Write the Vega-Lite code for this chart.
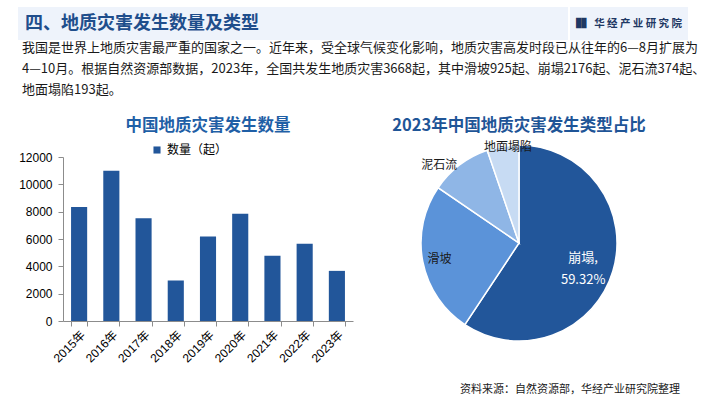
{
  "$schema": "https://vega.github.io/schema/vega-lite/v6.json",
  "background": "white",
  "padding": {"left": 17, "top": 7, "right": 0, "bottom": 0},
  "config": {
    "font": "Noto Sans CJK SC",
    "view": {"stroke": null},
    "title": {"font": "Noto Sans CJK SC"}
  },
  "columns": 2,
  "align": "none",
  "spacing": {"row": 2, "column": 0},
  "concat": [
    {"width": 1, "height": 1, "data": {"values": []}, "mark": {"type": "text", "text": ""}},
    {
      "columns": 2,
      "align": "none",
      "spacing": 0,
      "concat": [
        {
          "width": 550,
          "height": 33,
          "view": {"fill": "#eef3fb", "stroke": null},
          "title": {"text": "四、地质灾害发生数量及类型", "anchor": "start", "frame": "group", "offset": -26, "dx": 7, "fontSize": 18, "fontWeight": "bold", "color": "#1f4e8c"},
          "data": {"values": []},
          "mark": {"type": "text", "text": ""}
        },
        {
          "width": 118,
          "height": 33,
          "view": {"fill": "#eef3fb", "stroke": null},
          "title": {"text": "▐▌  华 经 产 业 研 究 院", "anchor": "end", "frame": "group", "offset": -22, "dx": -6, "fontSize": 10.5, "fontWeight": "bold", "color": "#1f3864"},
          "data": {"values": []},
          "mark": {"type": "text", "text": ""}
        }
      ]
    },
    {"width": 1, "height": 1, "data": {"values": []}, "mark": {"type": "text", "text": ""}},
    {
      "width": 668,
      "height": 15,
      "title": {
        "text": [
          "我国是世界上地质灾害最严重的国家之一。近年来，受全球气候变化影响，地质灾害高发时段已从往年的6—8月扩展为",
          "4—10月。根据自然资源部数据，2023年，全国共发生地质灾害3668起，其中滑坡925起、崩塌2176起、泥石流374起、",
          "地面塌陷193起。"
        ],
        "anchor": "start", "frame": "group", "dx": 4, "offset": 2,
        "fontSize": 13, "fontWeight": "normal", "lineHeight": 21, "color": "#1a1a1a"
      },
      "data": {"values": []},
      "mark": {"type": "text", "text": ""}
    },
    {"width": 1, "height": 1, "data": {"values": []}, "mark": {"type": "text", "text": ""}},
    {
      "columns": 2,
      "align": "none",
      "spacing": {"row": 0, "column": 39},
      "resolve": {"scale": {"color": "independent"}, "legend": {"color": "independent"}},
      "concat": [
        {"width": 1, "height": 1, "data": {"values": []}, "mark": {"type": "text", "text": ""}},
        {"width": 1, "height": 1, "data": {"values": []}, "mark": {"type": "text", "text": ""}},
        {
          "width": 290,
          "height": 164,
          "title": {"text": "中国地质灾害发生数量", "fontSize": 16.5, "fontWeight": "bold", "color": "#1f5fa6", "anchor": "middle", "offset": 10},
          "data": {"values": [
            {"year": "2015年", "count": 8350, "series": "数量（起）"},
            {"year": "2016年", "count": 10997, "series": "数量（起）"},
            {"year": "2017年", "count": 7521, "series": "数量（起）"},
            {"year": "2018年", "count": 2966, "series": "数量（起）"},
            {"year": "2019年", "count": 6181, "series": "数量（起）"},
            {"year": "2020年", "count": 7840, "series": "数量（起）"},
            {"year": "2021年", "count": 4772, "series": "数量（起）"},
            {"year": "2022年", "count": 5659, "series": "数量（起）"},
            {"year": "2023年", "count": 3668, "series": "数量（起）"}
          ]},
          "mark": {"type": "bar"},
          "encoding": {
            "x": {"field": "year", "type": "ordinal", "scale": {"paddingInner": 0.5, "paddingOuter": 0.25},
              "axis": {"title": null, "labelAngle": -45, "tickBand": "extent", "labelFontSize": 12, "labelFont": "Liberation Sans, Noto Sans CJK SC", "labelColor": "#000", "domainColor": "#8c8c8c", "tickColor": "#8c8c8c", "tickSize": 5, "labelPadding": 3}},
            "y": {"field": "count", "type": "quantitative", "scale": {"domain": [0, 12000]},
              "axis": {"title": null, "values": [0, 2000, 4000, 6000, 8000, 10000, 12000], "format": "d", "grid": false, "labelFontSize": 12, "labelFont": "Liberation Sans", "labelColor": "#000", "domainColor": "#8c8c8c", "tickColor": "#8c8c8c", "tickSize": 5, "labelPadding": 6}},
            "color": {"field": "series", "type": "nominal", "scale": {"range": ["#22569a"]},
              "legend": {"title": null, "orient": "none", "legendX": 88, "legendY": -13, "symbolType": "square", "symbolSize": 50, "symbolStrokeWidth": 0, "labelFontSize": 12, "labelFont": "Noto Sans CJK SC", "labelColor": "#000"}}
          }
        },
        {
          "width": 196,
          "height": 196,
          "title": {"text": "2023年中国地质灾害发生类型占比", "fontSize": 16.5, "fontWeight": "bold", "color": "#1f5597", "anchor": "middle", "frame": "group", "offset": 5},
          "data": {"values": [
            {"type": "崩塌", "count": 2176, "label": "崩塌,\n59.32%"},
            {"type": "滑坡", "count": 925, "label": "滑坡"},
            {"type": "泥石流", "count": 374, "label": "泥石流"},
            {"type": "地面塌陷", "count": 193, "label": "地面塌陷"}
          ]},
          "encoding": {
            "theta": {"field": "count", "type": "quantitative", "stack": true},
            "order": {"field": "count", "type": "quantitative", "sort": "descending"}
          },
          "layer": [
            {
              "mark": {"type": "arc", "stroke": "white", "strokeWidth": 1.5},
              "encoding": {
                "color": {"field": "type", "type": "nominal", "scale": {"domain": ["崩塌", "滑坡", "泥石流", "地面塌陷"], "range": ["#22569a", "#5b93d9", "#8fb6e6", "#c7dbf3"]}, "legend": null}
              }
            },
            {
              "mark": {"type": "text", "radius": 67, "lineBreak": "\n", "fontSize": 13, "lineHeight": 22, "baseline": "middle", "dy": -4},
              "encoding": {
                "detail": {"field": "type"},
                "color": {"value": "#ffffff"},
                "text": {"condition": {"test": "datum.type === '崩塌'", "field": "label", "type": "nominal"}, "value": ""}
              }
            },
            {
              "mark": {"type": "text", "radius": 81, "fontSize": 12, "baseline": "middle"},
              "encoding": {
                "detail": {"field": "type"},
                "color": {"value": "#1a1a1a"},
                "text": {"condition": {"test": "datum.type === '滑坡'", "field": "label", "type": "nominal"}, "value": ""}
              }
            },
            {
              "mark": {"type": "text", "radius": 102, "fontSize": 12, "baseline": "middle", "align": "right", "dy": 3},
              "encoding": {
                "detail": {"field": "type"},
                "color": {"value": "#1a1a1a"},
                "text": {"condition": {"test": "datum.type === '泥石流'", "field": "label", "type": "nominal"}, "value": ""}
              }
            },
            {
              "mark": {"type": "text", "radius": 97, "dx": 5, "fontSize": 12, "baseline": "middle"},
              "encoding": {
                "detail": {"field": "type"},
                "color": {"value": "#1a1a1a"},
                "text": {"condition": {"test": "datum.type === '地面塌陷'", "field": "label", "type": "nominal"}, "value": ""}
              }
            }
          ]
        }
      ]
    },
    {"width": 1, "height": 1, "data": {"values": []}, "mark": {"type": "text", "text": ""}},
    {
      "width": 662,
      "height": 13,
      "title": {"text": "资料来源：自然资源部，华经产业研究院整理", "orient": "bottom", "anchor": "end", "frame": "group", "offset": 4, "fontSize": 11, "fontWeight": "normal", "color": "#1a1a1a"},
      "data": {"values": []},
      "mark": {"type": "text", "text": ""}
    }
  ]
}
